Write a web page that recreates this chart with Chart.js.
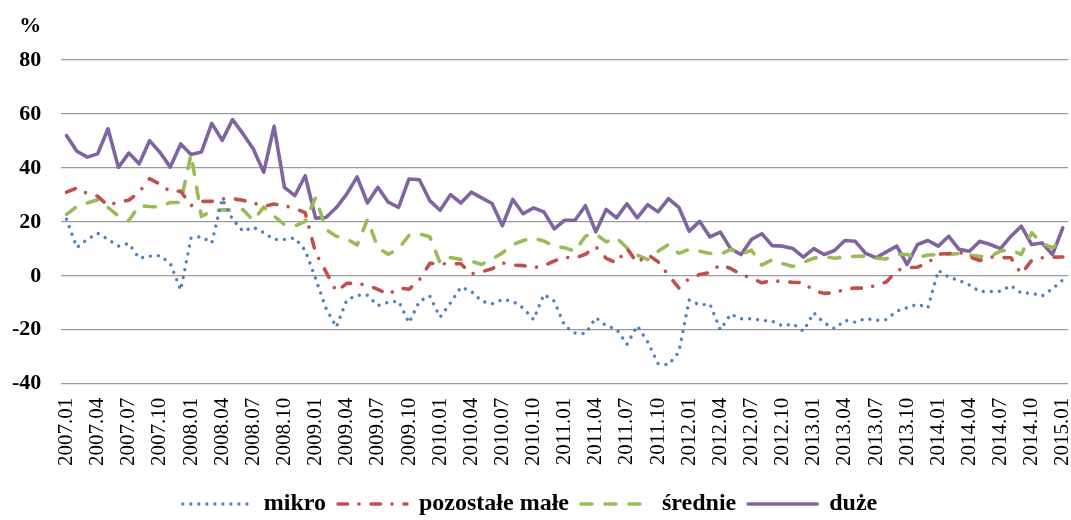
<!DOCTYPE html>
<html>
<head>
<meta charset="utf-8">
<script src="https://cdn.jsdelivr.net/npm/chart.js@4/dist/chart.umd.min.js"></script>
<style>
  html, body { margin: 0; padding: 0; background: #fff; }
  #wrap { width: 1071px; height: 520px; }
</style>
</head>
<body>
<div id="wrap"><canvas id="chart" width="1071" height="520"></canvas></div>
<script>
// monthly categories, 2007.01 - 2015.01
const months = [
    '2007.01','2007.02','2007.03','2007.04','2007.05','2007.06','2007.07','2007.08','2007.09','2007.10','2007.11','2007.12',
    '2008.01','2008.02','2008.03','2008.04','2008.05','2008.06','2008.07','2008.08','2008.09','2008.10','2008.11','2008.12',
    '2009.01','2009.02','2009.03','2009.04','2009.05','2009.06','2009.07','2009.08','2009.09','2009.10','2009.11','2009.12',
    '2010.01','2010.02','2010.03','2010.04','2010.05','2010.06','2010.07','2010.08','2010.09','2010.10','2010.11','2010.12',
    '2011.01','2011.02','2011.03','2011.04','2011.05','2011.06','2011.07','2011.08','2011.09','2011.10','2011.11','2011.12',
    '2012.01','2012.02','2012.03','2012.04','2012.05','2012.06','2012.07','2012.08','2012.09','2012.10','2012.11','2012.12',
    '2013.01','2013.02','2013.03','2013.04','2013.05','2013.06','2013.07','2013.08','2013.09','2013.10','2013.11','2013.12',
    '2014.01','2014.02','2014.03','2014.04','2014.05','2014.06','2014.07','2014.08','2014.09','2014.10','2014.11','2014.12',
    '2015.01'
];

// only quarterly labels are printed under the axis
const quarterTicks = [
    '2007.01','2007.04','2007.07','2007.10','2008.01','2008.04','2008.07','2008.10',
    '2009.01','2009.04','2009.07','2009.10','2010.01','2010.04','2010.07','2010.10',
    '2011.01','2011.04','2011.07','2011.10','2012.01','2012.04','2012.07','2012.10',
    '2013.01','2013.04','2013.07','2013.10','2014.01','2014.04','2014.07','2014.10','2015.01'
];

const mikro = [
    21, 10.5, 13.5, 15.8, 13.5, 11, 12, 6.5, 7.3, 7.5, 4.6, -5.3,
    14, 14.5, 12.2, 28.5, 21, 16.5, 18, 16, 13.5, 13.5, 14, 9.5,
    -1, -12, -19, -9, -7.2, -7.2, -11, -9.8, -9.4, -17.4, -9.4, -7.5,
    -15.3, -10, -4.2, -5.7, -9.4, -10.4, -8.8, -9.4, -11.9, -16.2, -6.9, -9.4,
    -18.6, -21.2, -21.4, -15.5, -18.5, -19.8, -25.4, -18.5, -24.5, -32.5, -33, -28.3,
    -9, -10.8, -10.5, -20, -14.2, -15.9, -15.9, -16.5, -16.8, -18.6, -17.8, -20.5,
    -13.7, -17.4, -19.6, -16.5, -17.2, -15.8, -16.5, -16.2, -13.1, -11.8, -10.5, -11.9,
    2, -0.5, -1.7, -3.4, -5.8, -5.8, -5.7, -3.6, -6.4, -6.4, -7.5, -4.8,
    -1.5
];

const pozostaleMale = [
    31, 32.6, 30.5, 29.5, 26, 27.5, 28, 31, 36, 34, 31.2, 31.4,
    26, 27.6, 27.6, 28.5, 28.6, 28, 27, 25.8, 26.6, 26, 25, 23.4,
    8.5, 1.5, -5.8, -2.8, -2.8, -3.5, -5, -6.9, -4.5, -5, -1.5, 4.6,
    4.5, 4.4, 4.5, 0.7, 1.5, 2.6, 4.8, 4, 3.8, 3, 3.8, 5.5,
    6.9, 6.6, 8, 10.8, 6.5, 4.8, 10.2, 4.8, 7.9, 5.2, 0.3, -4.5,
    -1, 0.5, 1.2, 4.2, 2.7, 0.5, -0.9, -2.6, -1.7, -2.2, -2.4, -2.5,
    -5.5, -6.5, -6.3, -5, -4.5, -4.6, -3.5, -2.3, 2, 3, 3.2, 4.8,
    8, 8.3, 8.9, 7, 5.7, 7, 6.8, 6.7, 0.7, 5.7, 6.7, 6.9,
    7
];

const srednie = [
    22.8, 25.7, 27, 28.2, 25.3, 22.2, 20.4, 26, 25.7, 25.5, 27.2, 27.2,
    45, 22, 24, 24.5, 24.3, 24.6, 20.5, 25.5, 22.1, 19, 18.4, 20.2,
    29, 17.2, 14.7, 13.7, 11.4, 20.9, 10.4, 8, 10, 15, 15.5, 14.5,
    4.8, 6.8, 6.1, 5.4, 4.2, 6.2, 8.5, 11.5, 13.1, 14, 12.9, 11,
    10.4, 9.1, 14.7, 15.6, 12.6, 14.1, 10.4, 7.7, 6, 9.1, 11.6, 8.3,
    9.8, 9.1, 8.3, 8, 9.8, 8, 9.5, 4, 6, 4.5, 3.5, 5,
    6.5, 7.2, 6.5, 7, 7.2, 7.3, 6.5, 6.3, 7.9, 7.9, 6.8, 7.7,
    7.9, 8, 8.2, 7.7, 7.2, 7.1, 9.2, 9.6, 7.9, 16, 12, 10.4,
    13.5
];

const duze = [
    52, 46.2, 44, 45.2, 54.5, 40.2, 45.5, 41.5, 50.1, 45.8, 40.3, 48.9,
    45, 45.9, 56.5, 50.2, 57.9, 52.7, 47, 38.4, 55.4, 32.8, 29.7, 37.1,
    21.4, 21.6, 25.3, 30.3, 36.7, 27, 32.8, 27.3, 25.4, 35.9, 35.6, 27.9,
    24.3, 30.1, 27, 31, 28.9, 26.8, 18.6, 28.3, 23, 25.2, 23.7, 17.4,
    20.6, 20.6, 26, 16.3, 24.6, 21.5, 26.7, 21.5, 26.4, 23.7, 28.6, 25.4,
    16.5, 20.2, 14.4, 16.2, 10, 7.9, 13.5, 15.6, 11.2, 11, 10.1, 6.9,
    10.1, 7.9, 9.4, 13.1, 12.8, 8.3, 6.7, 8.9, 11, 4.2, 11.6, 13.1,
    11, 14.7, 9.8, 9.1, 12.8, 11.6, 10.1, 14.7, 18.4, 11.6, 12.2, 7.9,
    17.8
];

const serif = '"Liberation Serif", "Times New Roman", serif';

// "%" unit above the value axis, right-aligned with the tick labels
const unitLabel = {
    id: 'unitLabel',
    afterDraw(chart) {
        const y = chart.scales.y;
        const ctx = chart.ctx;
        ctx.save();
        ctx.font = 'bold 22px ' + serif;
        ctx.fillStyle = '#000';
        ctx.textAlign = 'right';
        ctx.textBaseline = 'middle';
        ctx.fillText('%', y.right - y.options.ticks.padding, 26);
        ctx.restore();
    }
};

function series(label, data, color, dash, width) {
    return {
        label: label,
        data: data,
        borderColor: color,
        backgroundColor: color,
        borderWidth: width,
        borderDash: dash,
        borderCapStyle: 'round',
        borderJoinStyle: 'round',
        pointRadius: 0,
        tension: 0,
        fill: false
    };
}

// legend samples keep the dash pattern of their line
function legendItems(chart) {
    const items = Chart.defaults.plugins.legend.labels.generateLabels(chart);
    items.forEach(item => {
        const ds = chart.data.datasets[item.datasetIndex];
        item.lineDash = ds.borderDash;
        item.lineCap = 'round';
        item.lineWidth = ds.borderWidth;
    });
    return items;
}

new Chart(document.getElementById('chart').getContext('2d'), {
    type: 'line',
    data: {
        labels: months,
        datasets: [
            series('mikro', mikro, '#4f81bd', [0.01, 8], 3.4),
            series('pozostałe małe', pozostaleMale, '#c0504d', [9.5, 11.5, 0.01, 12], 3.6),
            series('średnie', srednie, '#9bbb59', [11, 13], 3.6),
            series('duże', duze, '#8064a2', [], 3.6)
        ]
    },
    options: {
        responsive: false,
        animation: false,
        layout: {
            padding: { top: 60, left: -8, right: 3, bottom: -6 }
        },
        scales: {
            x: {
                offset: true,
                grid: { display: false, drawTicks: false },
                border: { display: false },
                // rotated labels should not push the plot inwards
                afterFit: (scale) => {
                    scale.paddingLeft = 0;
                    scale.paddingRight = 0;
                },
                ticks: {
                    autoSkip: false,
                    minRotation: 90,
                    maxRotation: 90,
                    padding: 14,
                    color: '#000',
                    font: { family: serif, size: 21 },
                    callback: function (value) {
                        const l = this.getLabelForValue(value);
                        return quarterTicks.includes(l) ? l : '';
                    }
                }
            },
            y: {
                min: -40,
                max: 80,
                border: { display: false },
                grid: { color: '#9a9a9a', lineWidth: 1.3, drawTicks: false },
                ticks: {
                    stepSize: 20,
                    padding: 20,
                    color: '#000',
                    font: { family: serif, size: 22, weight: 'bold' }
                }
            }
        },
        plugins: {
            legend: {
                position: 'bottom',
                labels: {
                    usePointStyle: true,
                    pointStyle: 'line',
                    pointStyleWidth: 69,
                    padding: 12,
                    color: '#000',
                    font: { family: serif, size: 24, weight: 'bold' },
                    generateLabels: legendItems
                }
            },
            tooltip: { enabled: false }
        }
    },
    plugins: [unitLabel]
});
</script>
</body>
</html>
